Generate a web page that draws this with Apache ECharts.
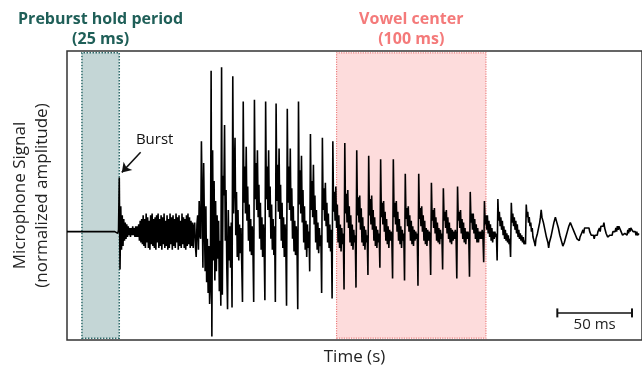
<!DOCTYPE html>
<html>
<head>
<meta charset="utf-8">
<script src="https://cdn.jsdelivr.net/npm/echarts@6/dist/echarts.min.js"></script>
<style>
html, body { margin: 0; padding: 0; background: #fff; }
#wave { width: 642px; height: 382px; }
</style>
</head>
<body>
<div id="wave"></div>
<script>
// waveform values: time in ms, amplitude in % of max
var silenceStepMs = 2;
var silenceAmp = [0, 0, 0, 0, 0, 0, 0, 0, 0, 0, 0, 0, 0, 0, 0, 0, 0, -1];

var sampleStepMs = 0.5;
var burstStartMs = 34.5;
var burstAmp = [
    1, 30, -21, 14, -10, 9, -8, 7, -5, 5, -4, 4, -3,
    3, -2, 2, -3, 2, -2, 3, -2, 2, -3, 3, -3,
    3, -3, 4, -5, 6, -6, 7, -7,
    9, -8, 7, -9, 10, -6, 8, -9, 6, -10, 9, -7, 10, -8, 7, -9, 8, -10, 9, -6,
    10, -9, 7, -8, 9, -10, 8, -7, 10, -9, 6, -8, 9, -10, 7, -9, 10, -7, 8, -10,
    9, -8, 7, -9, 10, -6, 8, -10, 9, -8, 6, -9, 10, -7, 8, -9, 7, -10, 9, -8,
    10, -7, 8, -9,
    6, -8, 5, -9,
    3, 5, -8, -14, 4, 9, -10, 17, -2
];

// glottal pulses: start time of each pulse and its samples
var pulseStartMs = [89.5, 96.0, 103.0, 110.5, 117.5, 125.0, 132.5, 139.5, 147.0, 154.5,
    162.5, 170.5, 177.5, 185.5, 193.5, 201.5, 209.5, 218.0, 226.0, 235.0,
    243.5, 251.5, 261.0, 269.5, 279.0, 288.0, 297.0, 307.0, 313.5, 322.5,
    332.5, 343.0, 353.0, 363.0, 373.0];
var pulseAmp = [
    [-4, 50, 18, -20, 38, 6, -22, 14, -28, -4, -34, -8, -40],
    [-30, 89, -58, 45, -16, 28, -27, 17, -22, 9, -15, 6, -33, -5],
    [-41, 91, -35, 31, 20, 59, -5, 23, -20, -43, 12, -16, 3, -20, 5],
    [-42, 86, 10, 30, 52, -2, 22, -14, 12, -16, 4, -12, 2, -18],
    [-39, 72, 16, 36, 10, 47, 6, 25, -5, 15, -11, 7, -13, 3, -9],
    [-39, 73, 18, 38, 12, 45, 8, 26, -4, 16, -10, 8, -14, 4, -8],
    [-38, 72, 18, 36, 12, 45, 8, 25, -4, 15, -10, 7, -13, 3],
    [-39, 71, 17, 37, 11, 46, 7, 26, -5, 16, -9, 8, -14, 4, -7],
    [-41, 68, 16, 36, 12, 46, 6, 24, -4, 14, -11, 6, -13, 3, -8],
    [-43, 72, 15, 34, 10, 42, 5, 23, -6, 14, -10, 6, -14, 4, -9, 0],
    [-22, 54, 12, 28, 8, 37, 4, 20, -6, 12, -10, 5, -12, 2, -8, -2],
    [-34, 52, 12, 24, 6, 27, 3, 16, -6, 10, -9, 4, -11, 1],
    [-37, 50, 11, 22, 6, 25, 2, 15, -6, 9, -9, 4, -11, 2, -7, -1],
    [-32, 49, 10, 21, 5, 23, 2, 14, -6, 9, -8, 4, -10, 1, -6, -2],
    [-31, 45, 9, 19, 5, 20, 1, 13, -6, 8, -8, 3, -10, 1, -6, -2],
    [-24, 42, 9, 18, 4, 20, 1, 12, -5, 8, -8, 3, -9, 1, -6, -1],
    [-20, 40, 8, 16, 4, 17, 0, 11, -5, 7, -7, 3, -9, 1, -5, 0, -4],
    [-26, 40, 8, 16, 4, 17, 0, 11, -5, 7, -7, 3, -9, 1, -5, -1],
    [-27, 32, 7, 13, 3, 14, 0, 9, -5, 6, -7, 3, -8, 1, -5, 0, -4, -1],
    [-30, 32, 7, 13, 3, 14, 0, 9, -5, 6, -7, 2, -8, 1, -5, 0, -3],
    [-24, 27, 6, 12, 2, 13, -1, 8, -5, 5, -6, 2, -7, 1, -4, -1],
    [-21, 24, 6, 11, 2, 12, -1, 8, -4, 5, -6, 2, -7, 1, -5, 0, -4, 1, -3],
    [-26, 25, 6, 11, 2, 12, -1, 7, -4, 5, -6, 2, -7, 0, -4, 0, -3],
    [-25, 22, 5, 10, 1, 10, -1, 7, -4, 4, -6, 2, -6, 0, -4, 0, -4, 1, -3],
    [-17, 17, 4, 9, 1, 9, -1, 6, -3, 4, -5, 2, -6, 0, -4, 0, -3, -1],
    [-16, 18, 6, 11, 3, 8, 1, 6, -2, 3, -4, 1, -5, -1, -6, -2, -7, -4],
    [-14, 16, 5, 10, 3, 8, 1, 6, -1, 4, -3, 1, -4, -1, -5, -2, -6, -3, -7, -5],
    [-7, 15, 8, 11, 5, 8, 3, 5, 0, 2, -3, -2, -6],
    [-8, -4, -3, -1, 0, 3, 5, 8, 12, 8, 8, 5, 4, 1, 1, -3, -3, -6],
    [-9, -6, -5, -3, -2, 1, 2, 5, 5, 8, 9, 5, 5, 2, 2, -2, -2, -5, -5, -8],
    [-9, -6, -6, -3, -3, 0, 0, 3, 2, 5, 5, 5, 2, 3, 0, 1, -2, -1, -4, -3, -5],
    [-5, -3, -4, -1, -2, 1, -1, 2, 1, 3, 2, 3, 1, 2, 0, 1, -2, -1, -3, -2],
    [-4, -2, -3, -1, -2, 0, -1, 2, 0, 3, 2, 4, 3, 5, 2, 2, -1, 0, -3, -2],
    [-3, -2, -3, -1, -2, 0, -1, 1, 0, 2, 0, 3, 1, 3, 2, 3, 0, 1, -2, -1],
    [-2, -1, -2, 0, -2, 1, -1, 2, 0, 2, 1, 2, 0, 1, -1, 0, -2, 0, -2, -1, -1]
];

// annotations
var preburstMs = [10, 35];
var vowelMs = [180.5, 280.5];
var bandAmp = [-59, 99];
var burstArrowMs = [49.3, 36.7];
var burstArrowAmp = [43.9, 32.8];
var burstLabelAt = [58.7, 50.6];
var scaleBarMs = [328.3, 378.3];
var scaleBarAmp = -45;

var points = [];
silenceAmp.forEach(function (v, i) { points.push([i * silenceStepMs, v]); });
burstAmp.forEach(function (v, i) { points.push([burstStartMs + i * sampleStepMs, v]); });
pulseStartMs.forEach(function (t0, k) {
    pulseAmp[k].forEach(function (v, i) { points.push([t0 + i * sampleStepMs, v]); });
});

var dom = document.getElementById("wave");
var myChart = echarts.init(dom);
var option = {
    animation: false,
    textStyle: { fontFamily: 'Open Sans' },
    grid: {
        left: 67, right: -3, top: 51, bottom: 42,
        show: true, borderColor: '#333', borderWidth: 1.5
    },
    xAxis: {
        type: 'value', min: 0, max: 385,
        axisLine: { show: false }, axisTick: { show: false },
        axisLabel: { show: false }, splitLine: { show: false },
        name: 'Time (s)', nameLocation: 'middle', nameGap: 9,
        nameTextStyle: { fontSize: 17, color: '#222' }
    },
    yAxis: {
        type: 'value', min: -60, max: 100,
        axisLine: { show: false }, axisTick: { show: false },
        axisLabel: { show: false }, splitLine: { show: false },
        name: 'Microphone Signal\n(normalized amplitude)', nameLocation: 'middle',
        nameRotate: 90, nameGap: 14,
        nameTextStyle: { fontSize: 17, lineHeight: 22, color: '#222' }
    },
    series: [
        {
            // shaded periods
            type: 'line', data: [], z: 1,
            markArea: {
                silent: true,
                data: [
                    [{
                        xAxis: preburstMs[0], yAxis: bandAmp[0],
                        itemStyle: { color: '#c4d6d6', borderColor: '#2e6b6b', borderWidth: 1.5, borderType: 'dotted' },
                        label: {
                            show: true, position: 'top', distance: 3,
                            formatter: 'Preburst hold period\n(25 ms)',
                            color: '#1f5f58', fontWeight: 'bold', fontSize: 16, lineHeight: 20
                        }
                    }, { xAxis: preburstMs[1], yAxis: bandAmp[1] }],
                    [{
                        xAxis: vowelMs[0], yAxis: bandAmp[0],
                        itemStyle: { color: '#fddcdc', borderColor: '#ec8080', borderWidth: 1.2, borderType: 'dotted' },
                        label: {
                            show: true, position: 'top', distance: 3,
                            formatter: 'Vowel center\n(100 ms)',
                            color: '#f47a7a', fontWeight: 'bold', fontSize: 16, lineHeight: 20
                        }
                    }, { xAxis: vowelMs[1], yAxis: bandAmp[1] }]
                ]
            }
        },
        {
            name: 'signal', type: 'line', data: points, z: 3,
            symbol: 'none', showSymbol: false,
            lineStyle: { color: '#000', width: 1.6 }
        },
        {
            // burst arrow and 50 ms scale bar
            type: 'line', data: [], z: 4,
            markLine: {
                silent: true,
                lineStyle: { color: '#111', width: 1.5, type: 'solid' },
                label: { show: false },
                data: [
                    [{ coord: [burstArrowMs[0], burstArrowAmp[0]], symbol: 'none' },
                     { coord: [burstArrowMs[1], burstArrowAmp[1]], symbol: 'arrow', symbolSize: 9 }],
                    [{ coord: [scaleBarMs[0], scaleBarAmp], symbol: 'rect', symbolSize: [9, 2],
                       label: { show: true, position: 'insideMiddleBottom', formatter: '50 ms', color: '#222', fontSize: 15, distance: 4 } },
                     { coord: [scaleBarMs[1], scaleBarAmp], symbol: 'rect', symbolSize: [9, 2] }]
                ]
            },
            markPoint: {
                silent: true,
                data: [{
                    coord: burstLabelAt, symbol: 'circle', symbolSize: 0,
                    label: { show: true, position: 'inside', formatter: 'Burst', color: '#111', fontSize: 15 }
                }]
            }
        }
    ]
};
myChart.setOption(option, true);
window.onresize = myChart.resize;
</script>
</body>
</html>
